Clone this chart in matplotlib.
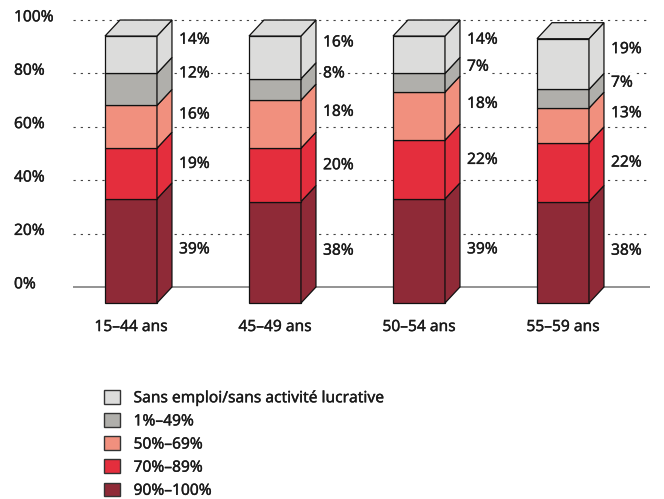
import matplotlib
matplotlib.use('Agg')
import matplotlib.pyplot as plt
import matplotlib.patheffects as pe
from matplotlib.patches import Polygon, Patch

plt.rcParams['font.family'] = ['Noto Sans', 'DejaVu Sans']

# Age groups and share of each employment level (%)
groups = ['15–44 ans', '45–49 ans', '50–54 ans', '55–59 ans']
share_90_100 = [39, 38, 39, 38]
share_70_89 = [19, 20, 22, 22]
share_50_69 = [16, 18, 18, 13]
share_1_49 = [12, 8, 7, 7]
share_none = [14, 16, 14, 19]

series = [share_90_100, share_70_89, share_50_69, share_1_49, share_none]
series_names = ['90%–100%', '70%–89%', '50%–69%', '1%–49%',
                'Sans emploi/sans activité lucrative']
colors = ['#8f2a37', '#e42e3d', '#f1907e', '#b0afab', '#dcdcdb']

yticks = [0, 20, 40, 60, 80, 100]

# label lift above the segment middle, per level
label_lift = [0.6, 3.6, 4.6, 6.0, 5.6]

# geometry of the pseudo-3d bars
w = 0.361      # front face width (category units)
dx = 0.104     # depth, horizontal
dy = 6.0       # depth, vertical (percent units)

fs = 11.2
txt = '#1a1a1a'
# slightly heavier strokes for all text
thick = [pe.withStroke(linewidth=0.25, foreground=txt)]

fig = plt.figure(figsize=(6.64, 4.99), dpi=100)
ax = fig.add_axes([0, 0, 1, 1])
ax.set_xlim(-0.9097, 3.7014)
ax.set_ylim(-79.4, 107.5)
ax.axis('off')

# back wall grid
for t in yticks[1:]:
    ax.hlines(t, -0.40, 3.605, colors='#444444', lw=0.8,
              linestyles=(0, (2, 4.5)), zorder=1)
ax.hlines(0, -0.40, 3.605, colors='#8a8a8a', lw=1.3, zorder=1)
for t in yticks:
    ax.text(-0.8125, t + 1.0, '%d%%' % t, ha='left', va='center',
            fontsize=fs, color=txt, path_effects=thick)

for i, g in enumerate(groups):
    x0 = i - w / 2
    x1 = x0 + w
    bottom = 0
    for k, vals in enumerate(series):
        top = bottom + vals[i]
        c = colors[k]
        # front face
        ax.add_patch(Polygon([(x0, bottom - dy), (x1, bottom - dy),
                              (x1, top - dy), (x0, top - dy)],
                             closed=True, fc=c, ec='#111111', lw=0.9, zorder=2))
        # side face
        ax.add_patch(Polygon([(x1, bottom - dy), (x1 + dx, bottom),
                              (x1 + dx, top), (x1, top - dy)],
                             closed=True, fc=c, ec='#111111', lw=0.9, zorder=2))
        ax.text(x1 + dx + 0.049, (bottom + top) / 2 - dy + label_lift[k],
                '%d%%' % vals[i], ha='left', va='center', fontsize=fs,
                color=txt, zorder=4, path_effects=thick,
                bbox=dict(fc='white', ec='none', pad=1.0))
        bottom = top
    # top face
    ax.add_patch(Polygon([(x0, bottom - dy), (x1, bottom - dy),
                          (x1 + dx, bottom), (x0 + dx, bottom)],
                         closed=True, fc=colors[-1], ec='#111111', lw=0.9, zorder=2))
    ax.text(i, -15, g, ha='center', va='center', fontsize=fs, color=txt,
            path_effects=thick)

handles = [Patch(fc=colors[k], ec='#333333', lw=1.0, label=series_names[k])
           for k in range(len(series) - 1, -1, -1)]
leg = ax.legend(handles=handles, loc='upper left',
                bbox_to_anchor=(104 / 664, 1 - 390 / 499),
                bbox_transform=fig.transFigure, frameon=False, fontsize=fs,
                handlelength=1.0, handleheight=1.0, handletextpad=0.9,
                labelspacing=0.44, borderpad=0, borderaxespad=0)
for t in leg.get_texts():
    t.set_color(txt)
    t.set_path_effects(thick)

fig.savefig('out.png', dpi=100)
plt.close(fig)
